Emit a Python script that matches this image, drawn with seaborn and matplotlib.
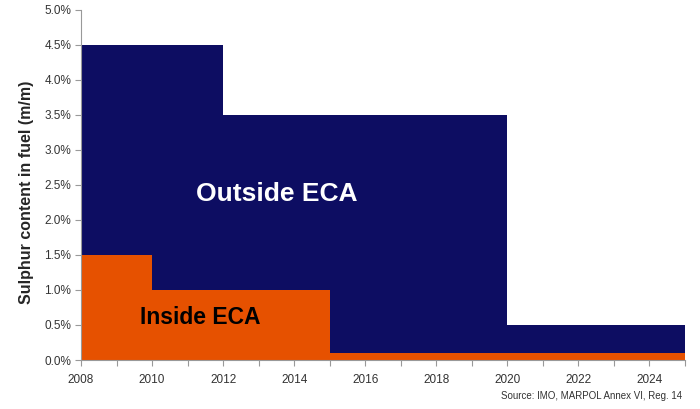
import matplotlib
matplotlib.use("Agg")
import matplotlib.pyplot as plt
from matplotlib.ticker import MultipleLocator, PercentFormatter
import seaborn as sns

# Sulphur limits (step changes at the given years)
years = [2008, 2010, 2012, 2015, 2020, 2025]
outside_eca = [4.5, 4.5, 3.5, 3.5, 0.5, 0.5]
inside_eca = [1.5, 1.0, 1.0, 0.1, 0.1, 0.1]

navy = "#0d0d62"
orange = "#e65100"

sns.set_style("ticks")
plt.rcParams['font.family'] = ['Liberation Sans', 'DejaVu Sans']

fig = plt.figure(figsize=(7, 4.09), dpi=100)
ax = fig.add_axes([0.1157, 0.1198, 0.8629, 0.8558])

ax.fill_between(years, 0, outside_eca, step='post', color=navy, linewidth=0)
ax.fill_between(years, 0, inside_eca, step='post', color=orange, linewidth=0)

ax.set_xlim(2008, 2025)
ax.set_ylim(0, 5)
ax.xaxis.set_major_locator(MultipleLocator(2))
ax.xaxis.set_minor_locator(MultipleLocator(1))
ax.yaxis.set_major_locator(MultipleLocator(0.5))
ax.yaxis.set_major_formatter(PercentFormatter(decimals=1))

ax.tick_params(axis='both', which='both', labelsize=8.5, labelcolor='#333333',
               color='#999999', length=4, width=0.8)
ax.tick_params(axis='y', pad=3)
ax.tick_params(axis='x', pad=6)
sns.despine(ax=ax)
for s in ['left', 'bottom']:
    ax.spines[s].set_color('#999999')
    ax.spines[s].set_linewidth(0.8)

ax.set_ylabel("Sulphur content in fuel (m/m)", fontsize=11.5, fontweight='bold')
ax.yaxis.set_label_coords(-0.078, 0.48)

ax.text(2013.5, 2.37, "Outside ECA", color='white', fontsize=19, fontweight='bold',
        ha='center', va='center')
ax.text(2011.35, 0.61, "Inside ECA", color='black', fontsize=16.5, fontweight='bold',
        ha='center', va='center')

fig.text(0.975, 0.02, "Source: IMO, MARPOL Annex VI, Reg. 14", fontsize=7,
         color='#333333', ha='right', va='bottom')

fig.savefig("out.png", dpi=100)
